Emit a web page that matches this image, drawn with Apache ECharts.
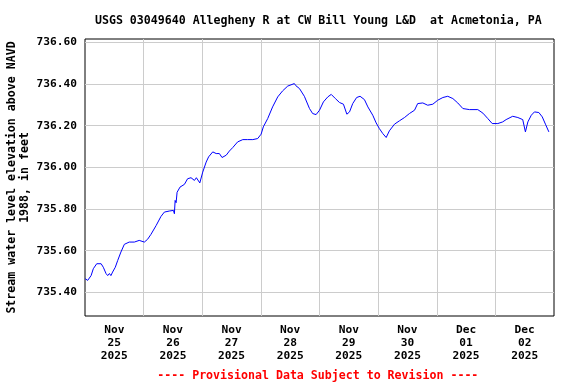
<!DOCTYPE html>
<html><head><meta charset="utf-8">
<script src="https://cdn.jsdelivr.net/npm/echarts@6/dist/echarts.min.js"></script>
<style>html,body{margin:0;padding:0;background:#fff}#c{width:576px;height:384px}</style>
</head><body><div id="c"></div>
<script>
// hours since 2025-11-25 00:00 (local)
const hours = [0.1,1.1,2.5,3.4,4.8,6.6,7.5,8.6,9.3,10.0,10.6,11.3,12.4,13.4,14.7,16.1,18.1,20.2,22.2,24.3,25.6,27.0,29.1,31.1,32.5,34.5,36.2,36.6,36.9,37.3,37.7,38.9,40.7,42.0,43.4,44.8,45.6,46.4,47.0,47.5,48.2,49.6,50.6,52.3,53.7,55.0,56.1,57.8,59.1,60.5,62.5,64.6,66.6,68.7,70.7,72.1,73.0,74.8,76.8,78.9,80.9,83.0,85.7,86.3,87.8,89.8,91.9,93.2,94.6,96.0,97.6,99.4,100.8,102.5,104.2,105.8,107.2,108.3,109.6,111.2,112.6,114.4,115.8,117.8,119.2,120.5,121.9,123.3,124.6,126.7,128.7,130.8,132.8,134.9,136.2,138.3,140.3,142.4,144.4,146.5,148.5,150.6,152.6,154.7,157.4,160.8,162.9,164.9,166.7,169.0,171.0,172.4,175.1,177.2,179.2,180.3,181.3,182.7,184.0,185.8,187.2,188.5,189.9];
const levels = [735.465,735.457,735.48,735.513,735.537,735.537,735.52,735.49,735.48,735.49,735.48,735.497,735.52,735.553,735.593,735.63,735.641,735.641,735.649,735.641,735.654,735.678,735.72,735.764,735.785,735.79,735.793,735.777,735.841,735.83,735.88,735.905,735.918,735.945,735.95,735.937,735.95,735.95,735.925,735.93,735.977,736.025,736.05,736.074,736.066,736.066,736.047,736.058,736.078,736.095,736.122,736.133,736.133,736.133,736.138,736.159,736.194,736.234,736.29,736.338,736.367,736.39,736.402,736.392,736.378,736.341,736.282,736.258,736.253,736.274,736.314,736.338,736.35,736.33,736.311,736.303,736.255,736.266,736.306,736.335,736.341,736.325,736.29,736.25,736.213,736.186,736.162,736.143,736.175,736.207,736.223,736.239,736.258,736.274,736.306,736.309,736.298,736.303,736.322,736.335,736.341,736.33,736.309,736.282,736.277,736.277,736.26,736.234,736.21,736.21,736.218,736.229,736.245,736.239,736.229,736.17,736.218,736.25,736.266,736.263,736.242,736.207,736.17];
const dayLabelHours = [12,36,60,84,108,132,156,180];
const dayLabels = ['Nov\n25\n2025','Nov\n26\n2025','Nov\n27\n2025','Nov\n28\n2025','Nov\n29\n2025','Nov\n30\n2025','Dec\n01\n2025','Dec\n02\n2025'];
const yTicks = [735.4,735.6,735.8,736.0,736.2,736.4,736.6];
const xGridHours = [24,48,72,96,120,144,168];

const FONT = 'DejaVu Sans Mono';
const chart = echarts.init(document.getElementById('c'), null, {renderer:'canvas'});
chart.setOption({
  animation:false,
  backgroundColor:'#fff',
  title:[
    {text:'USGS 03049640 Allegheny R at CW Bill Young L&D  at Acmetonia, PA', left:318.3, top:15, textAlign:'center', padding:0,
     textStyle:{fontFamily:FONT, fontSize:11.6, fontWeight:'bold', color:'#000'}},
    {text:'---- Provisional Data Subject to Revision ----', left:317.8, top:370, textAlign:'center', padding:0,
     textStyle:{fontFamily:FONT, fontSize:11.6, fontWeight:'bold', color:'#ff0000'}}
  ],
  grid:{left:85, right:22, top:39, bottom:68, show:true, borderColor:'#000', borderWidth:1, backgroundColor:'transparent', outerBoundsMode:'none', containLabel:false},
  xAxis:{type:'value', min:0, max:192,
    axisLine:{show:false}, axisTick:{show:false, customValues:xGridHours},
    splitLine:{show:true, lineStyle:{color:'#cccccc', width:1}},
    axisLabel:{customValues:dayLabelHours, margin:8, lineHeight:13,
      fontFamily:FONT, fontSize:11.2, fontWeight:'bold', color:'#000',
      formatter:(v)=>{const i=dayLabelHours.indexOf(Math.round(v)); return i>=0?dayLabels[i]:'';}}
  },
  yAxis:{type:'value', min:735.286, max:736.616,
    name:'Stream water level elevation above NAVD\n1988, in feet', nameLocation:'middle', nameGap:54, nameRotate:90,
    nameMoveOverlap:false,
    nameTextStyle:{fontFamily:FONT, fontSize:11.6, fontWeight:'bold', color:'#000', lineHeight:13},
    axisLine:{show:false}, axisTick:{show:false, customValues:yTicks},
    splitLine:{show:true, lineStyle:{color:'#cccccc', width:1}},
    axisLabel:{customValues:yTicks, margin:8, fontFamily:FONT, fontSize:11.2, fontWeight:'bold', color:'#000',
      formatter:(v)=>v.toFixed(2)}
  },
  series:[{type:'line', data:hours.map((h,i)=>[h,levels[i]]), showSymbol:false, symbol:'none',
    lineStyle:{color:'#0000ff', width:1}, clip:true}]
});
</script></body></html>
